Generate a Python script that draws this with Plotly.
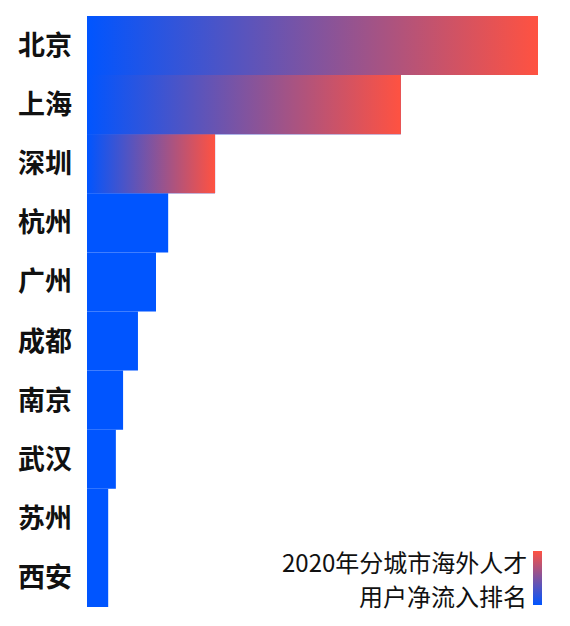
import plotly.graph_objects as go

# 城市与数值（按图中条形长度估计，北京=100）
cities = ["北京", "上海", "深圳", "杭州", "广州", "成都", "南京", "武汉", "苏州", "西安"]
values = [100, 69.6, 28.4, 18.0, 15.3, 11.3, 8.0, 6.4, 4.7, 4.7]
gradient_count = 3  # 前三名使用渐变色

legend_lines = ["2020年分城市海外人才", "用户净流入排名"]

BLUE = "#0055FF"
RED = "#FF5241"
# 页面 body 默认有 8px 边距，这里按此扣除
PAD = 8
W, H = 570 - PAD, 626 - PAD
M_L, M_R, M_T, M_B = 87 - PAD, 32, 16 - PAD, 19
plot_w = W - M_L - M_R
plot_h = H - M_T - M_B


def px_x(px):
    # 参考图横向像素 -> paper 坐标
    return (px - PAD - M_L) / plot_w


def px_y(py):
    # 参考图纵向像素 -> paper 坐标
    return (H - M_B - (py - PAD)) / plot_h


fig = go.Figure()

idx = list(range(len(cities)))

# 纯色条形
fig.add_trace(go.Bar(
    x=values, y=idx, orientation="h", width=1,
    marker=dict(color=BLUE, line=dict(width=0)),
    hoverinfo="skip", showlegend=False,
))

# 渐变条形（覆盖在前三名上）
for i in idx[:gradient_count]:
    v = values[i]
    fig.add_trace(go.Scatter(
        x=[0, v, v, 0, 0],
        y=[i - 0.5, i - 0.5, i + 0.5, i + 0.5, i - 0.5],
        mode="lines", line=dict(width=0), fill="toself",
        fillgradient=dict(type="horizontal", colorscale=[[0, BLUE], [1, RED]]),
        hoverinfo="skip", showlegend=False,
    ))

# 右下角颜色条
fig.add_trace(go.Scatter(
    x=[None], y=[None], mode="markers",
    marker=dict(
        color=[0], cmin=0, cmax=1, colorscale=[[0, BLUE], [1, RED]], showscale=True,
        colorbar=dict(
            thicknessmode="pixels", thickness=9, lenmode="pixels", len=54,
            x=px_x(533), xanchor="left",
            y=px_y(605), yanchor="bottom",
            xpad=0, ypad=0, outlinewidth=0, showticklabels=False, ticks="",
        ),
    ),
    hoverinfo="skip", showlegend=False,
))

for line, py in zip(legend_lines, [561, 595]):
    fig.add_annotation(
        text=line, xref="paper", yref="paper",
        x=px_x(529), xanchor="right",
        y=px_y(py), yanchor="middle",
        showarrow=False,
        font=dict(family="Noto Sans CJK SC", size=24, color="#111111"),
    )

fig.update_layout(
    width=W, height=H,
    margin=dict(l=M_L, r=M_R, t=M_T, b=M_B),
    plot_bgcolor="white", paper_bgcolor="white",
    xaxis=dict(range=[0, max(values)], visible=False, fixedrange=True),
    yaxis=dict(
        range=[len(cities) - 0.5, -0.5],
        tickvals=idx, ticktext=[f"<b>{c}</b>" for c in cities],
        tickfont=dict(family="Noto Sans CJK SC", size=27, color="#111111"),
        showgrid=False, zeroline=False, showline=False, ticks="",
        ticklabelstandoff=14, fixedrange=True,
    ),
)

fig.write_html("out.html")
